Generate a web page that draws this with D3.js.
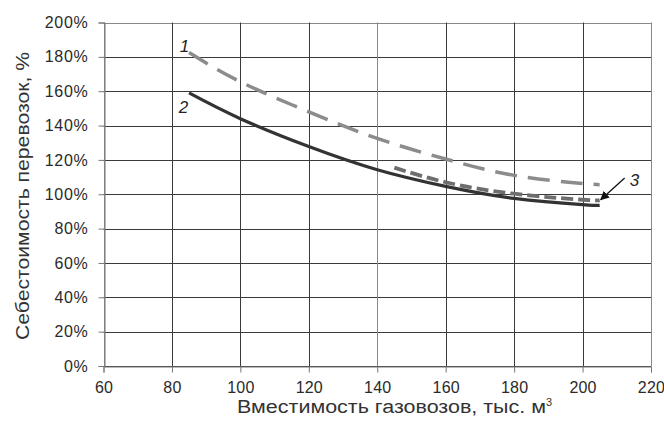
<!DOCTYPE html>
<html>
<head>
<meta charset="utf-8">
<script src="https://cdn.jsdelivr.net/npm/d3@7"></script>
<style>
  body { margin: 0; background: #fff; }
  svg { display: block; font-family: "Liberation Sans", Arial, sans-serif; }
</style>
</head>
<body>
<div id="chart"></div>
<script>
// curve data: capacity (thous. m3) -> cost, %
var xTicks = [60, 80, 100, 120, 140, 160, 180, 200, 220];
var yTicks = [0, 20, 40, 60, 80, 100, 120, 140, 160, 180, 200];
var series1 = [[85, 182.5], [100, 165.5], [120, 148], [140, 132.5], [160, 120.5], [180, 111], [200, 106.3], [205, 105.6]];
var series2 = [[85, 159], [100, 144], [120, 127.8], [140, 114.3], [160, 104.6], [180, 97.6], [200, 94], [205, 93.5]];
var series3 = [[145, 115.5], [160, 107], [180, 100.3], [200, 96.8], [205, 96.5]];

var W = 664, H = 422;
var m = {left: 103.5, right: 13, top: 22.5, bottom: 56};

var svg = d3.select('#chart').append('svg').attr('width', W).attr('height', H);

var x = d3.scaleLinear().domain([60, 220]).range([m.left, W - m.right]);
var y = d3.scaleLinear().domain([0, 200]).range([H - m.bottom, m.top]);

// grid
var grid = svg.append('g');
grid.selectAll('.hg').data(yTicks).enter().append('line')
  .attr('x1', x(60)).attr('x2', x(220))
  .attr('y1', function(d){ return Math.round(y(d)) + 0.5; })
  .attr('y2', function(d){ return Math.round(y(d)) + 0.5; })
  .attr('stroke', function(d){ return d === 200 ? '#888' : '#3a3a3a'; })
  .attr('stroke-width', 1);
grid.selectAll('.vg').data(xTicks).enter().append('line')
  .attr('y1', y(0)).attr('y2', y(200))
  .attr('x1', function(d){ return Math.round(x(d)) + 0.5; })
  .attr('x2', function(d){ return Math.round(x(d)) + 0.5; })
  .attr('stroke', function(d){ return (d === 60 || d === 220 || d === 140) ? '#888' : '#3a3a3a'; })
  .attr('stroke-width', 1);

// axes
var xAxis = d3.axisBottom(x).tickValues(xTicks).tickSize(6).tickPadding(5);
var yAxis = d3.axisLeft(y).tickValues(yTicks).tickSize(6).tickPadding(10)
  .tickFormat(function(d){ return d + '%'; });

var gx = svg.append('g').attr('transform', 'translate(0,' + (Math.round(y(0)) + 0.5) + ')').call(xAxis);
var gy = svg.append('g').attr('transform', 'translate(' + (Math.round(x(60)) + 0.5) + ',0)').call(yAxis);
[gx, gy].forEach(function(g){
  g.select('.domain').attr('stroke', '#777');
  g.selectAll('.tick line').attr('stroke', '#777');
  g.selectAll('.tick text').attr('fill', '#2a2a2a').style('font-size', '16px')
    .style('font-family', '"Liberation Sans", Arial, sans-serif');
});
gy.selectAll('.tick text').style('letter-spacing', '0.7px');
gx.selectAll('.tick text').attr('dy', '0.95em').style('letter-spacing', '0.2px');

// curves
var line = d3.line()
  .x(function(d){ return x(d[0]); })
  .y(function(d){ return y(d[1]); })
  .curve(d3.curveNatural);

svg.append('path').datum(series2).attr('d', line)
  .attr('fill', 'none').attr('stroke', '#333').attr('stroke-width', 3.2);
svg.append('path').datum(series3).attr('d', line)
  .attr('fill', 'none').attr('stroke', '#6e6e6e').attr('stroke-width', 3.8)
  .attr('stroke-dasharray', '12,5');
svg.append('path').datum(series1).attr('d', line)
  .attr('fill', 'none').attr('stroke', '#8c8c8c').attr('stroke-width', 3.5)
  .attr('stroke-dasharray', '22,11');

// labels 1, 2, 3
var lab = svg.append('g').style('font-size', '17px').attr('fill', '#222')
  .style('font-style', 'italic');
lab.append('text').attr('x', x(82.3)).attr('y', 52).text('1');
lab.append('text').attr('x', x(82)).attr('y', 113).text('2');
lab.append('text').attr('x', x(213.8)).attr('y', 186).text('3');

svg.append('defs').append('marker')
  .attr('id', 'arr').attr('viewBox', '0 0 10 10').attr('refX', 9).attr('refY', 5)
  .attr('markerWidth', 9).attr('markerHeight', 9).attr('markerUnits', 'userSpaceOnUse')
  .attr('orient', 'auto')
  .append('path').attr('d', 'M0,0 L10,5 L0,10 z').attr('fill', '#111');
svg.append('line')
  .attr('x1', x(212.3)).attr('y1', y(109.5))
  .attr('x2', x(205.3)).attr('y2', y(96.8))
  .attr('stroke', '#111').attr('stroke-width', 1.3)
  .attr('marker-end', 'url(#arr)');

// axis titles
var xt = svg.append('text').attr('x', 237).attr('y', 413)
  .attr('fill', '#333').style('font-size', '18px');
xt.append('tspan').attr('textLength', 309).attr('lengthAdjust', 'spacingAndGlyphs')
  .text('Вместимость газовозов, тыс. м');
xt.append('tspan').attr('dy', -7).attr('font-size', 11).text('3');

svg.append('text')
  .attr('transform', 'translate(29,196) rotate(-90)')
  .attr('text-anchor', 'middle').attr('fill', '#333').style('font-size', '18px')
  .attr('textLength', 288).attr('lengthAdjust', 'spacingAndGlyphs')
  .text('Себестоимость перевозок, %');
</script>
</body>
</html>
